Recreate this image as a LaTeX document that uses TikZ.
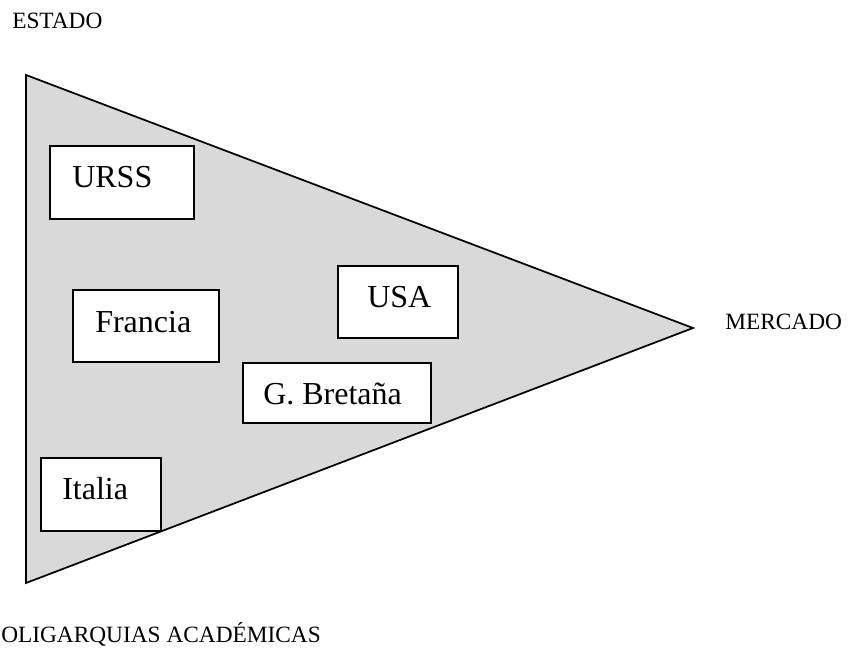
\documentclass[tikz,border=0pt]{standalone}
\usepackage{fontspec}
\setmainfont{Liberation Serif}
\begin{document}
\begin{tikzpicture}[x=0.75pt,y=-0.75pt,
  region/.style={draw=black, line width=1.3pt, fill=black!15, line join=miter},
  country/.style={draw=black, line width=0.9pt, fill=white, inner sep=0pt},
  countrytext/.style={anchor=base west, inner sep=0pt, font=\fontsize{24}{28}\selectfont},
  pole/.style={anchor=base west, inner sep=0pt, font=\fontsize{17.5}{21}\selectfont}]
  \useasboundingbox (0,0) rectangle (848,657);

  % the state--market--academic oligarchy triangle
  \coordinate (estado) at (26,75);
  \coordinate (mercado) at (693,328);
  \coordinate (oligarquias) at (26,583);
  \draw[region] (estado) -- (mercado) -- (oligarquias) -- cycle;

  % pole labels
  \node[pole] (lestado) at (12,28) {ESTADO};
  \node[pole] (lmercado) at (725,329) {MERCADO};
  \node[pole] (loligarquias) at (1,642) {OLIGARQUIAS ACADÉMICAS};

  % country boxes
  \node[country, minimum width=108pt, minimum height=54.75pt] (urss) at (122,182.5) {};
  \node[countrytext] (turss) at (72,187) {URSS};

  \node[country, minimum width=109.5pt, minimum height=54pt] (francia) at (146,326) {};
  \node[countrytext] (tfrancia) at (95,332) {Francia};

  \node[country, minimum width=90pt, minimum height=54pt] (usa) at (398,302) {};
  \node[countrytext] (tusa) at (367,307) {USA};

  \node[country, minimum width=141pt, minimum height=45pt] (gb) at (337,393) {};
  \node[countrytext] (tgb) at (263,404) {G. Bretaña};

  \node[country, minimum width=90pt, minimum height=54.75pt] (italia) at (101,494.5) {};
  \node[countrytext] (titalia) at (62,499) {Italia};
\end{tikzpicture}
\end{document}
